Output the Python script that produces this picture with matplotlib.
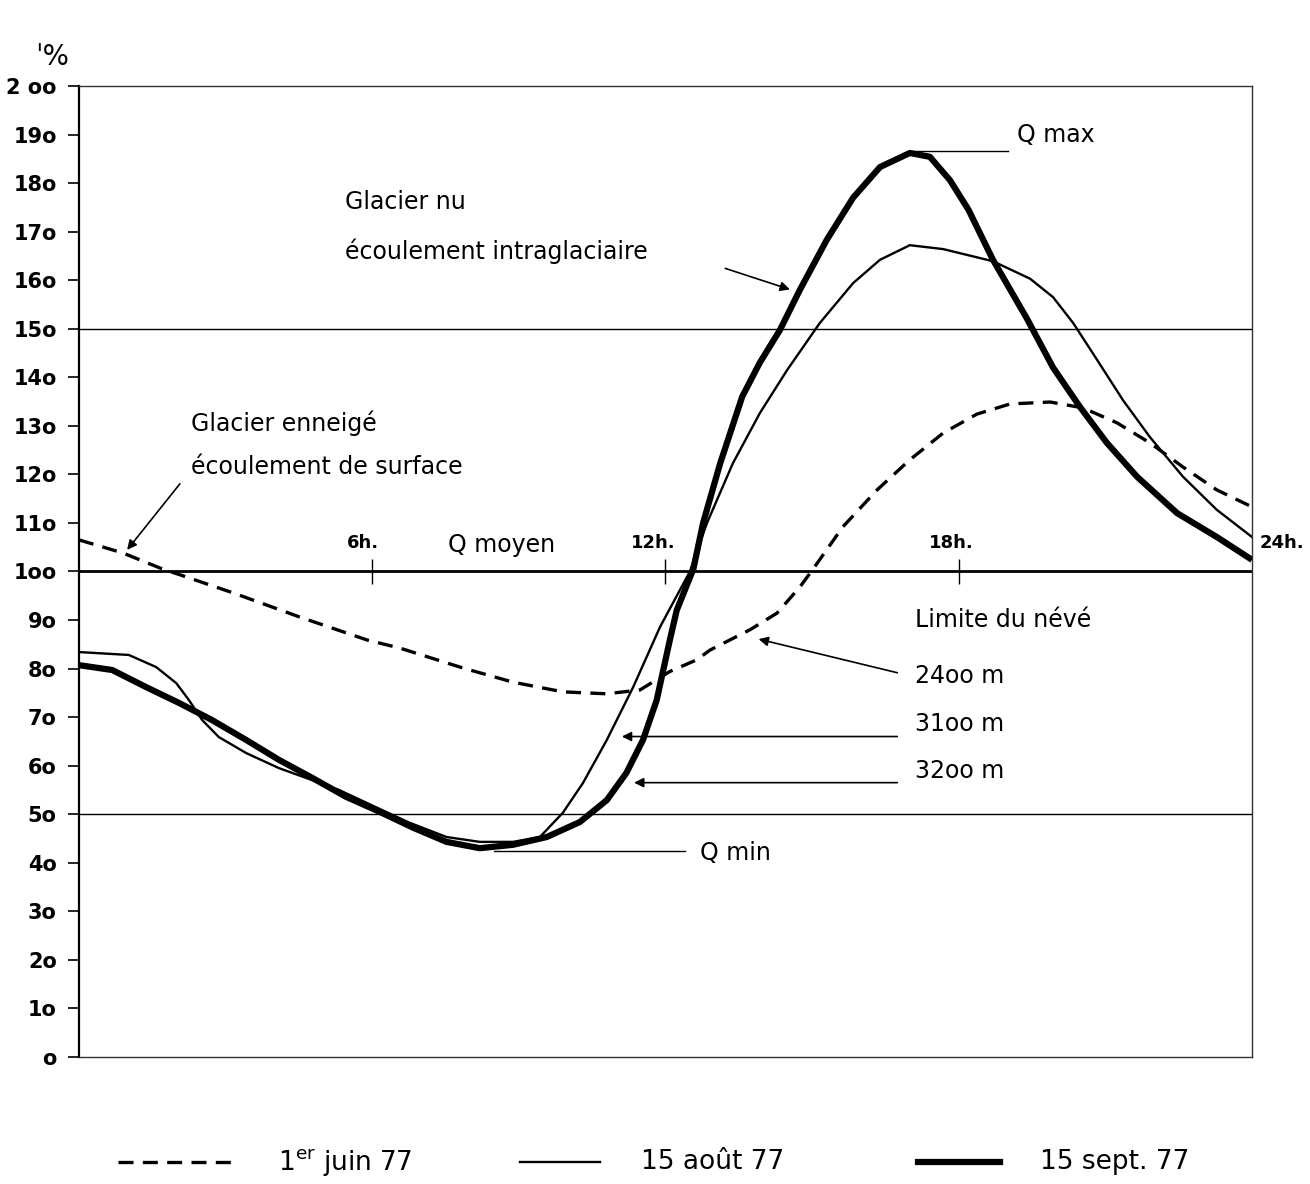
import matplotlib
matplotlib.use("Agg")
import matplotlib.pyplot as plt

# ---- data (hours, % of mean discharge) ----
juin_h = [0, 0.9, 1.66, 3.15, 4.52, 5.89, 6.57, 7.86, 8.88, 9.9, 10.8, 11.48, 12.09, 12.64, 12.91, 13.73, 14.28, 14.75, 15.02, 15.63, 16.33, 17.0, 17.68, 18.37, 19.05, 19.87, 20.54, 21.24, 21.91, 22.59, 23.28, 24.0]
juin_v = [106.5, 103.8, 100.7, 95.6, 90.6, 85.9, 84.2, 80.1, 77.2, 75.2, 74.8, 75.6, 79.4, 81.8, 83.8, 88.0, 91.4, 96.8, 100.5, 109.2, 116.8, 123.0, 128.5, 132.4, 134.5, 134.9, 133.7, 130.6, 126.5, 121.5, 116.8, 113.3]

aout_h = [0, 1.02, 1.58, 1.99, 2.25, 2.52, 2.86, 3.42, 4.09, 4.64, 5.32, 6.0, 6.75, 7.52, 8.2, 8.88, 9.43, 9.9, 10.31, 10.8, 11.34, 11.89, 12.5, 12.85, 13.38, 13.93, 14.49, 15.16, 15.84, 16.39, 17.0, 17.68, 18.7, 19.46, 19.93, 20.34, 20.83, 21.36, 21.91, 22.59, 23.28, 24.0]
aout_v = [83.4, 82.8, 80.3, 77.0, 73.5, 69.4, 65.9, 62.6, 59.5, 57.5, 55.0, 51.8, 48.3, 45.3, 44.3, 44.3, 45.3, 50.3, 56.4, 65.3, 76.2, 88.6, 100.0, 110.0, 122.3, 132.6, 141.5, 151.2, 159.4, 164.2, 167.2, 166.4, 163.9, 160.3, 156.5, 151.2, 143.6, 135.3, 127.7, 119.5, 112.7, 107.1]

sept_h = [0, 0.68, 1.37, 2.05, 2.72, 3.42, 4.09, 4.77, 5.46, 6.15, 6.84, 7.52, 8.2, 8.88, 9.57, 10.25, 10.8, 11.2, 11.54, 11.82, 12.09, 12.23, 12.57, 12.77, 13.12, 13.57, 13.93, 14.34, 14.75, 15.3, 15.84, 16.39, 17.0, 17.41, 17.82, 18.2, 18.7, 19.4, 19.93, 20.48, 21.03, 21.65, 22.47, 23.28, 24.0]
sept_v = [80.7, 79.7, 76.2, 72.9, 69.4, 65.3, 61.2, 57.5, 53.6, 50.5, 47.2, 44.3, 43.0, 43.7, 45.3, 48.4, 52.9, 58.5, 65.3, 73.5, 85.9, 92.0, 100.5, 110.0, 122.3, 136.0, 143.0, 149.7, 158.0, 168.3, 177.0, 183.3, 186.2, 185.4, 180.6, 174.5, 164.2, 152.0, 142.0, 133.9, 126.5, 119.5, 112.0, 107.1, 102.4]

ytick_vals = list(range(0, 201, 10))
ytick_labels = ["o", "1o", "2o", "3o", "4o", "5o", "6o", "7o", "8o", "9o", "1oo",
                "11o", "12o", "13o", "14o", "15o", "16o", "17o", "18o", "19o", "2 oo"]
hour_marks = [6, 12, 18]
hour_labels = ["6h.", "12h.", "18h.", "24h."]
series_labels = ["1$^{\\mathrm{er}}$ juin 77", "15 août 77", "15 sept. 77"]

plt.rcParams['font.family'] = ['DejaVu Sans']
fig = plt.figure(figsize=(13.1, 11.84), dpi=100)
ax = fig.add_axes([0.0603, 0.1073, 0.8954, 0.8201])
ax.set_xlim(0, 24)
ax.set_ylim(0, 200)

for s in ax.spines.values():
    s.set_linewidth(1.0)
    s.set_color("#333333")
ax.spines['left'].set_linewidth(1.6)
ax.spines['left'].set_color("black")

ax.set_yticks(ytick_vals)
ax.set_yticklabels(ytick_labels, fontsize=15, fontweight='bold')
ax.tick_params(axis='y', length=8, width=1.2, direction='out', pad=8)
ax.set_xticks([])

for yv, lw in [(50, 1.0), (150, 1.0), (100, 2.0)]:
    ax.axhline(yv, color="black", lw=lw, zorder=1)
ax.vlines(hour_marks, 97.5, 102.5, color="black", lw=1.0)

# curves
ax.plot(juin_h, juin_v, color="black", lw=2.4, dashes=(4.5, 2.8), zorder=3,
        dash_joinstyle='round')
ax.plot(aout_h, aout_v, color="black", lw=1.7, zorder=3, solid_joinstyle='round')
ax.plot(sept_h, sept_v, color="black", lw=4.5, zorder=4, solid_capstyle='butt',
        solid_joinstyle='round')

fs = 17
for h, lab in zip([5.8, 11.75, 17.85], hour_labels[:3]):
    ax.text(h, 104.0, lab, fontsize=13, fontweight='bold', ha='center', va='bottom')
ax.text(24.15, 104.0, hour_labels[3], fontsize=13, fontweight='bold', ha='left', va='bottom', clip_on=False)
ax.text(7.55, 103.0, "Q moyen", fontsize=fs, ha='left', va='bottom')

arrow = dict(arrowstyle="-|>", color="black", lw=1.2, mutation_scale=14)
ax.text(5.45, 176.0, "Glacier nu", fontsize=fs, ha='left', va='center')
ax.text(5.45, 166.0, "écoulement intraglaciaire", fontsize=fs, ha='left', va='center')
ax.annotate("", xy=(14.6, 157.9), xytext=(13.17, 162.6), arrowprops=arrow)

ax.text(2.3, 130.5, "Glacier enneigé", fontsize=fs, ha='left', va='center')
ax.text(2.3, 121.5, "écoulement de surface", fontsize=fs, ha='left', va='center')
ax.annotate("", xy=(0.95, 104.0), xytext=(2.1, 118.5), arrowprops=arrow)

ax.text(19.2, 190.0, "Q max", fontsize=fs, ha='left', va='center')
ax.plot([17.0, 19.0], [186.7, 186.7], color="black", lw=1.0)

ax.text(17.1, 90.0, "Limite du névé", fontsize=fs, ha='left', va='center')
ax.text(17.1, 78.5, "24oo m", fontsize=fs, ha='left', va='center')
ax.annotate("", xy=(13.85, 86.2), xytext=(16.8, 79.0), arrowprops=arrow)
ax.text(17.1, 68.5, "31oo m", fontsize=fs, ha='left', va='center')
ax.annotate("", xy=(11.05, 66.0), xytext=(16.8, 66.0), arrowprops=arrow)
ax.text(17.1, 59.0, "32oo m", fontsize=fs, ha='left', va='center')
ax.annotate("", xy=(11.3, 56.5), xytext=(16.8, 56.5), arrowprops=arrow)

ax.text(12.7, 42.0, "Q min", fontsize=fs, ha='left', va='center')
ax.plot([8.5, 12.4], [42.5, 42.5], color="black", lw=1.0)

fig.text(0.027, 0.952, "ˈ%", fontsize=20, ha='left', va='center')

# legend
lx = [(0.090, 0.177), (0.397, 0.458), (0.701, 0.763)]
tx = [0.212, 0.489, 0.794]
styles = [dict(lw=2.4, dashes=(4.5, 2.8)), dict(lw=1.7), dict(lw=4.5)]
ly = 1 - 1162 / 1184
for (x0, x1), t, st, lab in zip(lx, tx, styles, series_labels):
    line = plt.Line2D([x0, x1], [ly, ly], color="black", transform=fig.transFigure, **st)
    fig.add_artist(line)
    fig.text(t, ly, lab, fontsize=19, ha='left', va='center')

fig.savefig("out.png", dpi=100)
